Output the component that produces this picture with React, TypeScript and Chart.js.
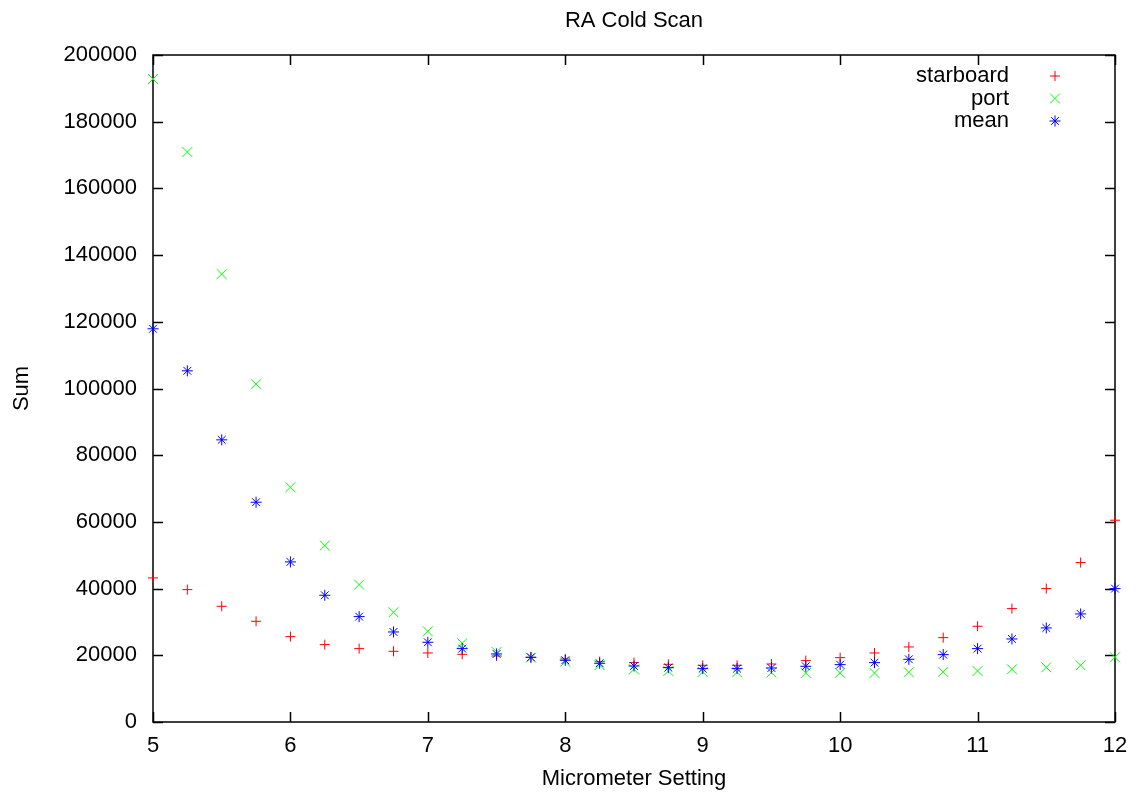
import React, { useEffect, useRef } from 'react';
import { Chart, registerables } from 'chart.js';
import { drawPoint } from 'chart.js/helpers';

Chart.register(...registerables);

const micrometer = [5, 5.25, 5.5, 5.75, 6, 6.25, 6.5, 6.75, 7, 7.25, 7.5, 7.75, 8, 8.25, 8.5, 8.75, 9, 9.25, 9.5, 9.75, 10, 10.25, 10.5, 10.75, 11, 11.25, 11.5, 11.75, 12];

const starboard = [43200, 39700, 34700, 30200, 25600, 23200, 22000, 21200, 20700, 20300, 19800, 19400, 18900, 18100, 17800, 17300, 17000, 17000, 17400, 18400, 19300, 20700, 22500, 25300, 28700, 34000, 40000, 47800, 60500];

const port = [192800, 170900, 134300, 101300, 70400, 52900, 41200, 32900, 27200, 23600, 21000, 19300, 18100, 17100, 15800, 15300, 15000, 14900, 14800, 14700, 14700, 14700, 14900, 15000, 15300, 15800, 16400, 17000, 19400];

const mean = [117900, 105300, 84600, 65900, 48000, 38000, 31600, 27000, 23900, 22000, 20400, 19400, 18500, 17600, 16800, 16300, 16000, 16000, 16200, 16700, 17200, 17800, 18800, 20200, 22000, 24900, 28200, 32400, 40000];

const seriesNames = ['starboard', 'port', 'mean'];
const seriesColors = ['#ff0000', '#00ff00', '#0000ff'];
const seriesStyles = ['cross', 'crossRot', 'star'];
const seriesRadius = [5, 7, 5.5];

const chartTitle = 'RA Cold Scan';
const FONT = "'Liberation Sans', Arial, Helvetica, sans-serif";

const framePlugin = {
  id: 'frame',
  beforeDatasetsDraw(chart: any) {
    const { ctx, chartArea, scales } = chart;
    const { left, right, top, bottom } = chartArea;
    ctx.save();
    ctx.strokeStyle = '#000';
    ctx.lineWidth = 1.5;
    ctx.strokeRect(left, top, right - left, bottom - top);
    const tl = 10;
    ctx.beginPath();
    scales.x.ticks.forEach((t: any) => {
      const px = Math.round(scales.x.getPixelForValue(t.value)) + 0.5;
      ctx.moveTo(px, bottom);
      ctx.lineTo(px, bottom - tl);
      ctx.moveTo(px, top);
      ctx.lineTo(px, top + tl);
    });
    scales.y.ticks.forEach((t: any) => {
      const py = Math.round(scales.y.getPixelForValue(t.value)) + 0.5;
      ctx.moveTo(left, py);
      ctx.lineTo(left + tl, py);
      ctx.moveTo(right, py);
      ctx.lineTo(right - tl, py);
    });
    ctx.stroke();
    ctx.restore();
  },
};

const legendPlugin = {
  id: 'gpLegend',
  afterDraw(chart: any) {
    const { ctx, chartArea } = chart;
    ctx.save();
    ctx.font = `22px ${FONT}`;
    ctx.fillStyle = '#000';
    ctx.textAlign = 'center';
    ctx.textBaseline = 'middle';
    ctx.fillText(chartTitle, (chartArea.left + chartArea.right) / 2, 21);
    ctx.textAlign = 'right';
    const textRight = 1009;
    const markerX = 1055;
    const y0 = 76;
    const dy = 22.5;
    seriesNames.forEach((name, i) => {
      const y = y0 + i * dy;
      ctx.fillText(name, textRight, y);
      ctx.strokeStyle = seriesColors[i];
      ctx.lineWidth = 1;
      drawPoint(ctx, { pointStyle: seriesStyles[i] as any, radius: seriesRadius[i], borderWidth: 1, rotation: 0 } as any, markerX, y);
    });
    ctx.restore();
  },
};

export default function App() {
  const canvasRef = useRef<HTMLCanvasElement | null>(null);

  useEffect(() => {
    const canvas = canvasRef.current;
    if (!canvas) return;
    const seriesData = [starboard, port, mean];
    const chart = new Chart(canvas, {
      type: 'scatter',
      data: {
        datasets: seriesData.map((vals, i) => ({
          label: seriesNames[i],
          data: micrometer.map((x, k) => ({ x, y: vals[k] })),
          pointStyle: seriesStyles[i] as any,
          pointRadius: seriesRadius[i],
          pointHoverRadius: seriesRadius[i],
          pointBorderWidth: 1,
          borderColor: seriesColors[i],
          backgroundColor: seriesColors[i],
          pointBorderColor: seriesColors[i],
          showLine: false,
          clip: false as any,
          order: 2 - i,
        })),
      },
      options: {
        responsive: false,
        animation: false,
        layout: { padding: { left: 0, right: 22, top: 55, bottom: 0 } },
        plugins: {
          legend: { display: false },
          tooltip: { enabled: false },
          title: { display: false },
        },
        scales: {
          x: {
            type: 'linear',
            min: 5,
            max: 12,
            grid: { display: false, drawTicks: false },
            border: { display: false },
            ticks: {
              stepSize: 1,
              padding: 11,
              color: '#000',
              font: { family: FONT, size: 22 },
              callback: (v: any) => String(v),
            },
            title: {
              display: true,
              text: 'Micrometer Setting',
              color: '#000',
              font: { family: FONT, size: 22 },
              padding: { top: 0, bottom: 4 },
            },
            afterFit: (scale: any) => {
              scale.height = 74;
              scale.paddingLeft = 0;
              scale.paddingRight = 0;
            },
          },
          y: {
            type: 'linear',
            min: 0,
            max: 200000,
            grid: { display: false, drawTicks: false },
            border: { display: false },
            ticks: {
              stepSize: 20000,
              padding: 16,
              color: '#000',
              font: { family: FONT, size: 22 },
              callback: (v: any) => String(v),
            },
            title: {
              display: true,
              text: 'Sum',
              color: '#000',
              font: { family: FONT, size: 22 },
              padding: { top: 9, bottom: 0 },
            },
            afterFit: (scale: any) => {
              scale.width = 153;
              scale.paddingTop = 0;
              scale.paddingBottom = 0;
            },
          },
        },
      },
      plugins: [framePlugin, legendPlugin],
    });
    return () => chart.destroy();
  }, []);

  return (
    <div style={{ position: 'absolute', left: 0, top: 0, width: 1137, height: 796, background: '#fff' }}>
      <canvas ref={canvasRef} width={1137} height={796} />
    </div>
  );
}
